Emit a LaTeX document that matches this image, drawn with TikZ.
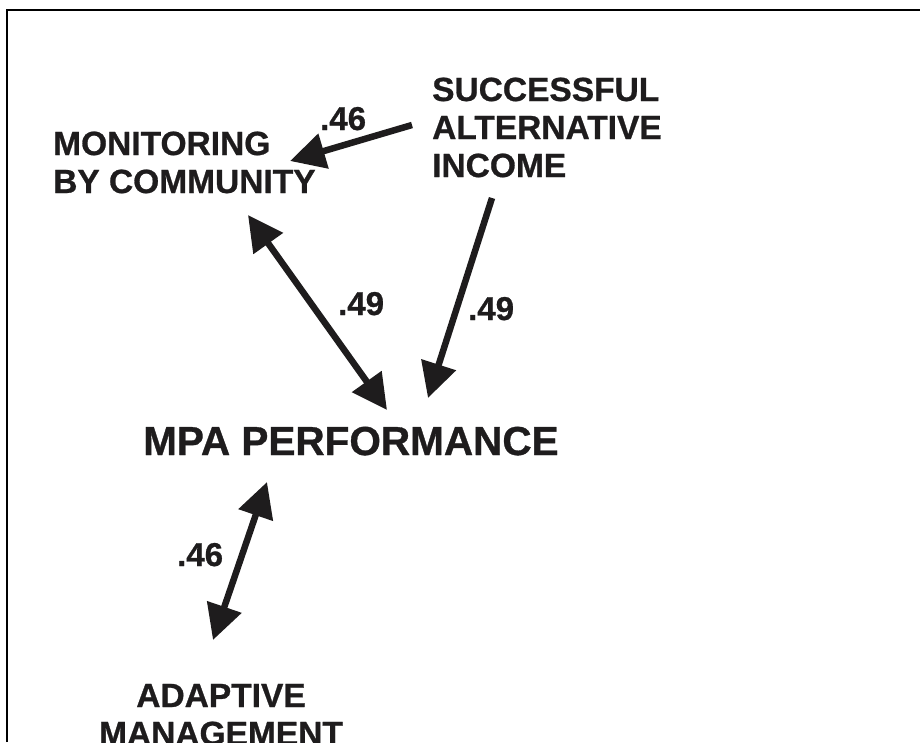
\documentclass[tikz,border=0pt]{standalone}
\usepackage{fontspec}
\setmainfont{Liberation Sans}[BoldFeatures={FakeBold=0.8}]
\usetikzlibrary{arrows.meta}
\definecolor{ink}{RGB}{30,28,29}
\begin{document}
\begin{tikzpicture}[x=1pt,y=-1pt,
  lab/.style={font=\fontsize{33.5}{38}\selectfont\bfseries, text=ink, inner sep=0pt, align=left, anchor=base west},
  big/.style={font=\fontsize{40.5}{44}\selectfont\bfseries, text=ink, inner sep=0pt, anchor=base west},
  coef/.style={font=\fontsize{33}{38}\selectfont\bfseries, text=ink, inner sep=0pt, anchor=base west},
  conn/.style={line width=6.5pt, draw=ink, -{Triangle[length=35pt,width=35pt]}},
  bi/.style={line width=6.5pt, draw=ink, {Triangle[length=35pt,width=35pt]}-{Triangle[length=35pt,width=35pt]}}]
\useasboundingbox (0,0) rectangle (920,742);
\draw[line width=2pt, draw=black] (7,742) -- (7,10) -- (920,10);

\node[lab] (mon) at (53,193) {MONITORING\\BY COMMUNITY};
\node[lab] (sai) at (432,177) {SUCCESSFUL\\ALTERNATIVE\\INCOME};
\node[big] (mpa) at (143,455) {MPA PERFORMANCE};
\node[lab, align=center, anchor=base] (ada) at (221,745) {ADAPTIVE\\MANAGEMENT};

\node[coef] (c1) at (320,130) {.46};
\node[coef] (c2) at (338,315) {.49};
\node[coef] (c3) at (468,320) {.49};
\node[coef] (c4) at (177,566) {.46};

\coordinate (sai-w) at (412,125);
\coordinate (mon-e) at (290,161);
\coordinate (mon-s) at (248,215);
\coordinate (mpa-nw) at (387,410);
\coordinate (sai-s) at (492,198);
\coordinate (mpa-ne) at (428,398);
\coordinate (mpa-sw) at (267,482);
\coordinate (ada-n) at (213,640);

\draw[conn] (sai-w) -- (mon-e);
\draw[bi] (mon-s) -- (mpa-nw);
\draw[conn] (sai-s) -- (mpa-ne);
\draw[bi] (mpa-sw) -- (ada-n);
\end{tikzpicture}
\end{document}
